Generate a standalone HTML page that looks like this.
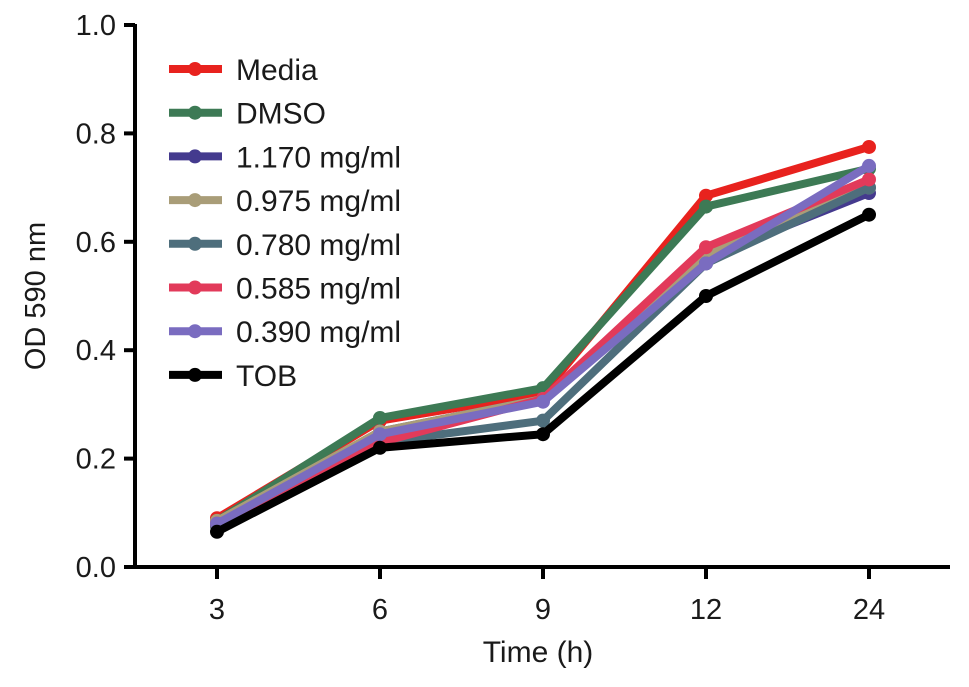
<!DOCTYPE html>
<html><head><meta charset="utf-8"><style>
body{margin:0;background:#fff}
svg text{font-family:"Liberation Sans",Arial,sans-serif;fill:#1a1a1a}
</style></head><body>
<svg id="chart" width="969" height="682" viewBox="0 0 969 682">
<g id="axes"></g><g id="series"></g><g id="legend"></g>
</svg>
<script>
const categories=["3","6","9","12","24"];
const yTicks=[0.0,0.2,0.4,0.6,0.8,1.0];
const seriesNames=["Media","DMSO","1.170 mg/ml","0.975 mg/ml","0.780 mg/ml","0.585 mg/ml","0.390 mg/ml","TOB"];
const seriesColors=["#e8221e","#3d7a55","#443a8e","#a99d78","#4e6e7c","#e23a5a","#7a6cc0","#000000"];
const media=[0.09,0.27,0.32,0.685,0.775];
const dmso=[0.085,0.275,0.33,0.665,0.735];
const c1170=[0.08,0.25,0.31,0.57,0.69];
const c0975=[0.085,0.25,0.31,0.575,0.70];
const c0780=[0.075,0.23,0.27,0.56,0.70];
const c0585=[0.08,0.23,0.31,0.59,0.715];
const c0390=[0.08,0.245,0.305,0.56,0.74];
const tob=[0.065,0.22,0.245,0.50,0.65];
const allSeries=[media,dmso,c1170,c0975,c0780,c0585,c0390,tob];
const NS="http://www.w3.org/2000/svg";
function yS(v){return 567-v*542;}
function xS(i){return 217+i*163;}
function mk(tag,attrs,parent){const e=document.createElementNS(NS,tag);for(const k in attrs)e.setAttribute(k,attrs[k]);parent.appendChild(e);return e;}
const axes=document.getElementById('axes');
let a=mk('line',{x1:135,y1:567,x2:950,y2:567,stroke:'#000','stroke-width':4},axes);


a=mk('line',{x1:135,y1:24,x2:135,y2:569,stroke:'#000','stroke-width':4},axes);


yTicks.forEach(v=>{
 const t=mk('line',{x1:124,y1:yS(v),x2:135,y2:yS(v),stroke:'#000','stroke-width':4},axes);
 
 
 const l=mk('text',{x:116,y:yS(v)+10,'text-anchor':'end','font-size':29},axes);
 l.textContent=v.toFixed(1);
 
 
});
categories.forEach((c,i)=>{
 const t=mk('line',{x1:xS(i),y1:567,x2:xS(i),y2:579,stroke:'#000','stroke-width':4},axes);
 
 
 const l=mk('text',{x:xS(i),y:619,'text-anchor':'middle','font-size':29},axes);
 l.textContent=c;
 
 
});
let tt=mk('text',{x:538,y:662,'text-anchor':'middle','font-size':30},axes);
tt.textContent='Time (h)';


tt=mk('text',{x:0,y:0,'text-anchor':'middle','font-size':29,transform:'translate(45,296) rotate(-90)'},axes);
tt.textContent='OD 590 nm';


const sg=document.getElementById('series');
allSeries.forEach((vals,s)=>{
 const g=mk('g',{},sg);
 
 
 const pts=vals.map((v,i)=>xS(i)+','+yS(v)).join(' ');
 mk('polyline',{points:pts,fill:'none',stroke:seriesColors[s],'stroke-width':8,'stroke-linejoin':'round'},g);
 vals.forEach((v,i)=>{
  const p=mk('circle',{cx:xS(i),cy:yS(v),r:7,fill:seriesColors[s]},g);
  
  
 });
});
const lg=document.getElementById('legend');
seriesNames.forEach((n,s)=>{
 const y=69+s*43.7;
 const g=mk('g',{},lg);
 
 
 mk('line',{x1:169,y1:y,x2:222,y2:y,stroke:seriesColors[s],'stroke-width':8},g);
 mk('circle',{cx:195,cy:y,r:7,fill:seriesColors[s]},g);
 const t=mk('text',{x:236,y:y+11,'font-size':30},g);
 t.textContent=n;
});
</script>
</body></html>
